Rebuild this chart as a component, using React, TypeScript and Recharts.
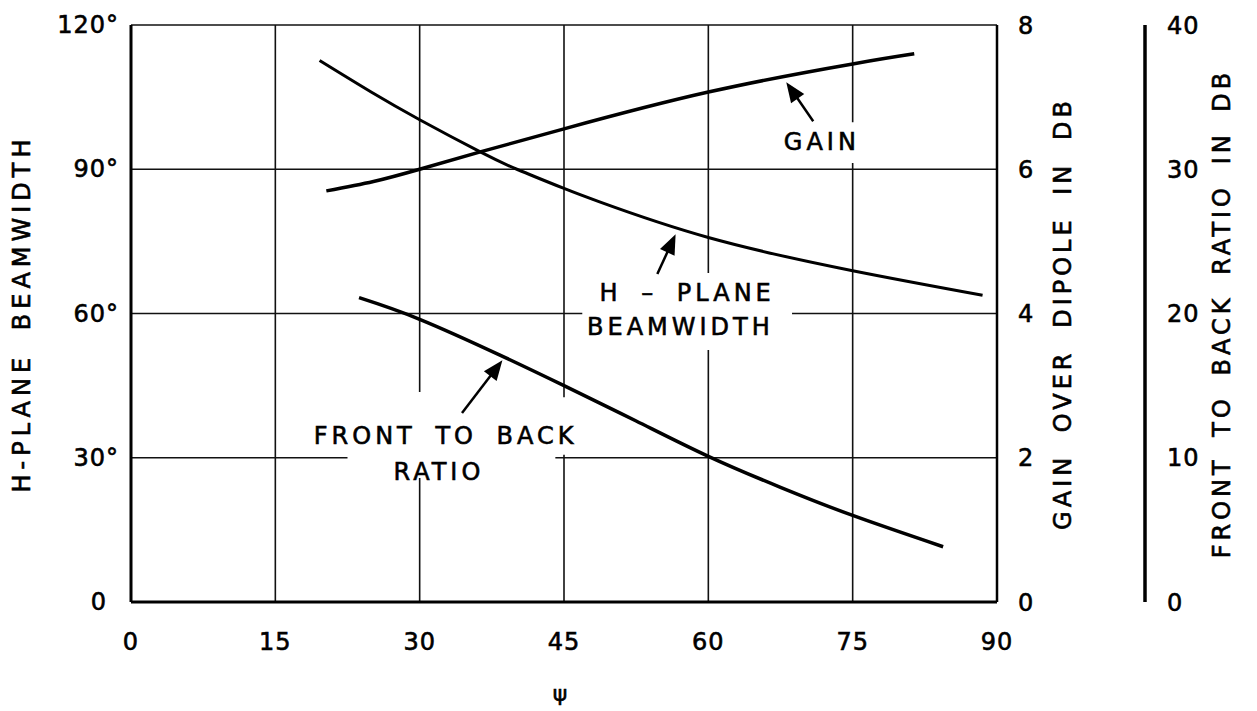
import { LineChart, Line, XAxis, YAxis, CartesianGrid, ReferenceArea, ReferenceDot, ReferenceLine } from 'recharts'

// axis ticks
const psiTicks = [0, 15, 30, 45, 60, 75, 90]
const degTicks = [0, 30, 60, 90, 120]
const gainTicks = [0, 2, 4, 6, 8]
const ftbTicks = [0, 10, 20, 30, 40]

// gain over dipole (db) vs psi
const gainPsi = [20.3, 25.2, 30, 36.3, 45, 60, 75, 81.4]
const gainDb = [5.7, 5.83, 6.0, 6.24, 6.56, 7.07, 7.46, 7.6]

// h-plane beamwidth (deg) vs psi
const beamPsi = [19.6, 25, 30, 36.3, 40.1, 45, 48.7, 60, 75, 88.5]
const beamDeg = [112.6, 106, 100.3, 93.6, 90.0, 86.0, 83.2, 75.8, 68.9, 63.8]

// front to back ratio (db) vs psi
const ftbPsi = [23.7, 30, 38.4, 45, 52.5, 60, 67.5, 75, 84.4]
const ftbDb = [21.1, 19.6, 17.1, 15.0, 12.55, 10.1, 7.95, 6.0, 3.83]

const gainData = gainPsi.map((psi, i) => ({ psi, v: gainDb[i] }))
const beamData = beamPsi.map((psi, i) => ({ psi, v: beamDeg[i] }))
const ftbData = ftbPsi.map((psi, i) => ({ psi, v: ftbDb[i] }))

const FONT = '"DejaVu Sans", sans-serif'
const INK = '#000'

// white patches behind the annotation text (psi1, psi2, deg1, deg2)
const patches = [
  [67.4, 76.0, 91.3, 99.8],
  [46.9, 68.7, 52.4, 68.4],
  [22.5, 44.1, 25.8, 43.7],
  [18.1, 47.7, 30.6, 42.6],
]

const notes = [
  { text: 'GAIN', psi: 71.8, deg: 95.7 },
  { text: 'H – PLANE', psi: 57.8, deg: 64.3 },
  { text: 'BEAMWIDTH', psi: 57.1, deg: 57.1 },
  { text: 'FRONT TO BACK', psi: 32.7, deg: 34.5 },
  { text: 'RATIO', psi: 32.0, deg: 27.0 },
]

const arrows = [
  { from: [70.9, 100.0], to: [68.1, 108.1] },
  { from: [54.7, 68.2], to: [56.6, 76.5] },
  { from: [34.4, 39.3], to: [38.6, 50.3] },
]

function Arrow(p: any) {
  const { x1, y1, x2, y2 } = p
  const dx = x2 - x1
  const dy = y2 - y1
  const len = Math.hypot(dx, dy) || 1
  const ux = dx / len
  const uy = dy / len
  const hl = 20
  const hw = 8
  const bx = x2 - ux * hl
  const by = y2 - uy * hl
  return (
    <g>
      <line x1={x1} y1={y1} x2={bx + ux * 2} y2={by + uy * 2} stroke={INK} strokeWidth={2.5} />
      <polygon points={`${x2},${y2} ${bx - uy * hw},${by + ux * hw} ${bx + uy * hw},${by - ux * hw}`} fill={INK} />
    </g>
  )
}

const ink = { fill: INK, stroke: INK, strokeWidth: 0.6, fontFamily: FONT }

function noteShape(text: string) {
  return (p: any) => (
    <text x={p.cx} y={p.cy} textAnchor="middle" dominantBaseline="central" fontSize={24} letterSpacing={4} wordSpacing={8} {...ink}>
      {text}
    </text>
  )
}

function sideTitle(text: string, offset: number, ls: number, ws: number) {
  return ({ viewBox }: any) => {
    const cx = viewBox.x + offset
    const cy = viewBox.y + viewBox.height / 2
    return (
      <text
        x={cx}
        y={cy}
        transform={`rotate(-90 ${cx} ${cy})`}
        textAnchor="middle"
        dominantBaseline="central"
        fontSize={24}
        letterSpacing={ls}
        wordSpacing={ws}
        {...ink}
      >
        {text}
      </text>
    )
  }
}

function DegTick({ x, y, payload }: any) {
  const zero = payload.value === 0
  return (
    <text x={zero ? x - 12 : x} y={y} dy={8} textAnchor="end" fontSize={24} letterSpacing={1} {...ink}>
      {zero ? '0' : `${payload.value}°`}
    </text>
  )
}

const tickStyle = { fontSize: 24, letterSpacing: 1, ...ink }

export default function App() {
  return (
    <div style={{ position: 'absolute', left: 0, top: 0, width: 1257, height: 711, background: '#fff', fontFamily: FONT }}>
      <LineChart width={1257} height={711} margin={{ top: 25, right: 12, bottom: 9, left: 0 }}>
        <CartesianGrid yAxisId="deg" stroke="#111" strokeWidth={1.6} ticks={degTicks} />
        <XAxis
          dataKey="psi"
          type="number"
          domain={[0, 90]}
          ticks={psiTicks}
          height={100}
          tickLine={false}
          tickSize={0}
          tickMargin={31}
          axisLine={{ stroke: INK, strokeWidth: 3 }}
          tick={tickStyle}
          label={({ viewBox }: any) => (
            <text x={viewBox.x + viewBox.width / 2 - 4} y={693} textAnchor="middle" dominantBaseline="central" fontSize={22} {...ink}>
              ψ
            </text>
          )}
        />
        <YAxis
          yAxisId="deg"
          orientation="left"
          width={131}
          domain={[0, 120]}
          ticks={degTicks}
          tickLine={false}
          tickSize={0}
          tickMargin={12}
          axisLine={{ stroke: INK, strokeWidth: 3 }}
          tick={<DegTick />}
          label={sideTitle('H-PLANE BEAMWIDTH', 22, 5, 10)}
        />
        <YAxis
          yAxisId="r1gain"
          orientation="right"
          width={148}
          domain={[0, 8]}
          ticks={gainTicks}
          tickLine={false}
          tickSize={0}
          tickMargin={21}
          axisLine={{ stroke: INK, strokeWidth: 2.5 }}
          tick={tickStyle}
          label={sideTitle('GAIN OVER DIPOLE IN DB', 66, 4, 10)}
        />
        <YAxis
          yAxisId="r2ftb"
          orientation="right"
          width={100}
          domain={[0, 40]}
          ticks={ftbTicks}
          tickLine={false}
          tickSize={0}
          tickMargin={22}
          axisLine={{ stroke: INK, strokeWidth: 3.5 }}
          tick={tickStyle}
          label={sideTitle('FRONT TO BACK RATIO IN DB', 77, 4, 8)}
        />

        {patches.map(([a, b, c, d], i) => (
          <ReferenceArea key={`p${i}`} yAxisId="deg" x1={a} x2={b} y1={c} y2={d} fill="#fff" fillOpacity={1} stroke="none" />
        ))}

        <Line data={gainData} dataKey="v" yAxisId="r1gain" type="natural" dot={false} stroke={INK} strokeWidth={3.5} isAnimationActive={false} />
        <Line data={beamData} dataKey="v" yAxisId="deg" type="natural" dot={false} stroke={INK} strokeWidth={3} isAnimationActive={false} />
        <Line data={ftbData} dataKey="v" yAxisId="r2ftb" type="natural" dot={false} stroke={INK} strokeWidth={3.5} isAnimationActive={false} />

        {arrows.map((a, i) => (
          <ReferenceLine
            key={`a${i}`}
            yAxisId="deg"
            segment={[
              { x: a.from[0], y: a.from[1] },
              { x: a.to[0], y: a.to[1] },
            ]}
            shape={Arrow}
          />
        ))}
        {notes.map((n, i) => (
          <ReferenceDot key={`n${i}`} yAxisId="deg" x={n.psi} y={n.deg} r={0} shape={noteShape(n.text)} />
        ))}
      </LineChart>
    </div>
  )
}
